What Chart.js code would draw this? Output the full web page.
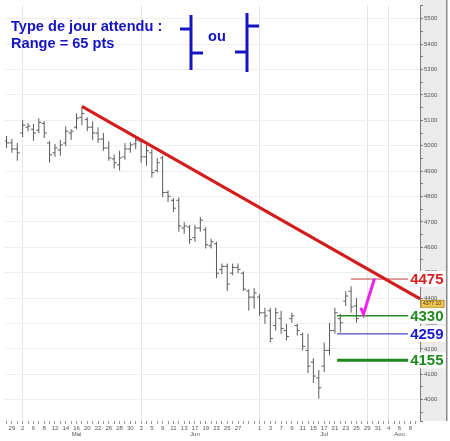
<!DOCTYPE html>
<html>
<head>
<meta charset="utf-8">
<script src="https://cdn.jsdelivr.net/npm/chart.js@4.4.1/dist/chart.umd.min.js"></script>
<style>
  html, body { margin: 0; padding: 0; background: #fff; }
</style>
</head>
<body>
<canvas id="chart" width="450" height="441"></canvas>
<script>
// Barres journalières (une par séance, index = position sur l'axe)
const highs = [5038, 5026, 5011, 5100, 5088, 5085, 5108, 5096, 5018, 5007,
               5022, 5077, 5065, 5127, 5151, 5112, 5096, 5073, 5050, 5018,
               4964, 4980, 5011, 5015, 5038, 5026, 5003, 4987, 4952, 4960,
               4824, 4793, 4797, 4700, 4688, 4688, 4719, 4680, 4634, 4622,
               4536, 4536, 4536, 4536, 4505, 4435, 4439, 4416, 4362, 4362,
               4362, 4350, 4299, 4342, 4299, 4264, 4260, 4163, 4117, 4225,
               4303, 4362, 4338, 4427, 4447, 4400];
const lows  = [4991, 4972, 4941, 5034, 5057, 5019, 5050, 5030, 4933, 4956,
               4960, 4999, 5022, 5065, 5081, 5057, 5022, 5011, 4980, 4941,
               4910, 4902, 4945, 4972, 4987, 4933, 4921, 4875, 4894, 4797,
               4778, 4739, 4661, 4653, 4614, 4622, 4661, 4595, 4595, 4478,
               4494, 4428, 4490, 4498, 4428, 4350, 4358, 4330, 4299, 4226,
               4272, 4260, 4233, 4303, 4253, 4194, 4105, 4066, 4004, 4109,
               4175, 4260, 4264, 4369, 4342, 4303];
const opens = [5019, 5011, 4987, 5050, 5073, 5065, 5061, 5088, 5011, 4972,
               4983, 5011, 5050, 5073, 5112, 5104, 5073, 5050, 5026, 4991,
               4948, 4925, 4956, 4987, 5007, 5018, 4956, 4972, 4902, 4952,
               4816, 4785, 4785, 4676, 4680, 4638, 4676, 4669, 4606, 4614,
               4513, 4525, 4498, 4521, 4498, 4428, 4404, 4404, 4342, 4350,
               4292, 4319, 4272, 4319, 4292, 4257, 4194, 4148, 4086, 4132,
               4194, 4272, 4319, 4388, 4427, 4369];
const closes = [5011, 4987, 4972, 5081, 5077, 5050, 5092, 5050, 4964, 4991,
                5003, 5057, 5057, 5108, 5127, 5073, 5050, 5026, 4991, 4952,
                4933, 4952, 4987, 5003, 5022, 4956, 4980, 4894, 4933, 4816,
                4801, 4754, 4684, 4684, 4630, 4676, 4707, 4610, 4622, 4498,
                4525, 4455, 4521, 4513, 4435, 4404, 4420, 4342, 4330, 4241,
                4342, 4280, 4249, 4330, 4272, 4210, 4132, 4093, 4047, 4194,
                4272, 4342, 4303, 4408, 4365, 4319];

// Axe des dates
const tickSlots  = [1, 3, 5, 7, 9, 11, 13, 15, 17, 19, 21, 23, 25, 27, 29, 31, 33, 35, 37,
                    39, 41, 43, 47, 49, 51, 53, 55, 57, 59, 61, 63, 65, 67, 69, 71, 73, 75];
const tickLabels = ['29', '2', '6', '8', '12', '14', '16', '20', '22', '26', '28', '30',
                    '3', '5', '9', '11', '13', '17', '19', '23', '25', '27',
                    '1', '3', '7', '9', '11', '15', '17', '21', '23', '25', '29', '31',
                    '4', '6', '8'];
const monthSlots  = [13, 35, 59, 73];
const monthLabels = ['Mai', 'Jun', 'Jul', 'Aou'];
const monthGrid   = [3, 25, 47, 67, 71];

// Tracés d'analyse
const trendX = [14, 76.8];
const trendY = [5155, 4397];
const arrowX = [65.8, 66.3, 68.35];
const arrowY = [4362, 4337, 4477];
const levelValues = [4475, 4330, 4259, 4155];
const levelStart  = [64, 61.4, 61.4, 61.4];
const levelEnd    = 74.6;
const lastPrice   = 4377.10;

const levelColors = ['#c23b3b', '#2a8a2a', '#1d1db5', '#1c8a1c'];
const labelColors = ['#d42020', '#218a21', '#1a1ad2', '#1c8a1c'];
const levelWidths = [1, 1.5, 1, 3];

const barColor = '#5a5a5a';

const pts = (xs, ys) => xs.map((x, i) => ({ x: x, y: ys[i] }));

const datasets = [
    {
        type: 'line',
        data: pts(trendX, trendY),
        borderColor: '#d41c1c',
        borderWidth: 3,
        pointRadius: 0
    },
    {
        type: 'line',
        data: pts(arrowX, arrowY),
        borderColor: '#ee22ee',
        borderWidth: 3,
        pointRadius: 0,
        borderJoinStyle: 'miter'
    }
];

levelValues.forEach((lv, i) => {
    datasets.push({
        type: 'line',
        data: [{ x: levelStart[i], y: lv }, { x: levelEnd, y: lv }],
        borderColor: levelColors[i],
        borderWidth: levelWidths[i],
        pointRadius: 0
    });
});

// petits traits ouverture (gauche) / clôture (droite)
datasets.push({
    type: 'line',
    data: opens.map((o, i) => ({ x: i - 0.25, y: o })),
    showLine: false,
    pointStyle: 'line',
    pointRadius: 1.2,
    pointBorderWidth: 1,
    pointBorderColor: barColor
});
datasets.push({
    type: 'line',
    data: closes.map((c, i) => ({ x: i + 0.25, y: c })),
    showLine: false,
    pointStyle: 'line',
    pointRadius: 1.2,
    pointBorderWidth: 1,
    pointBorderColor: barColor
});
datasets.push({
    type: 'bar',
    data: lows.map((l, i) => ({ x: i, y: [l, highs[i]] })),
    backgroundColor: barColor,
    barThickness: 1,
    inflateAmount: 0,
    borderWidth: 0
});

const decor = {
    id: 'decor',
    beforeDraw(chart) {
        const { ctx, chartArea } = chart;
        ctx.save();
        ctx.fillStyle = '#ebebeb';
        ctx.fillRect(chartArea.right, 0, 447 - chartArea.right, chartArea.bottom);
        ctx.fillStyle = '#8a8a8a';
        ctx.fillRect(446, 0, 1.5, chartArea.bottom);
        ctx.restore();
    },
    afterDraw(chart) {
        const { ctx, chartArea } = chart;
        const xs = chart.scales.x, ys = chart.scales.y;
        ctx.save();

        // prix courant
        const py = ys.getPixelForValue(lastPrice);
        ctx.fillStyle = '#f2c84b';
        ctx.strokeStyle = '#b8902a';
        ctx.lineWidth = 1;
        ctx.fillRect(chartArea.right + 1, py - 3.5, 23, 7);
        ctx.strokeRect(chartArea.right + 1, py - 3.5, 23, 7);
        ctx.fillStyle = '#333';
        ctx.font = '5px "Liberation Sans"';
        ctx.textBaseline = 'middle';
        ctx.fillText(lastPrice.toFixed(2), chartArea.right + 3, py);

        // étiquettes des niveaux
        ctx.font = 'bold 15px "Liberation Sans"';
        levelValues.forEach((lv, i) => {
            const y = ys.getPixelForValue(lv);
            const x = xs.getPixelForValue(levelEnd) + 2;
            const txt = String(lv);
            const w = ctx.measureText(txt).width;
            ctx.fillStyle = '#fff';
            ctx.fillRect(x - 1, y - 8, w + 3, 16);
            ctx.fillStyle = labelColors[i];
            ctx.fillText(txt, x, y + 1);
        });

        // légende "type de jour"
        const blue = '#1414c4';
        ctx.fillStyle = blue;
        ctx.font = 'bold 14.6px "Liberation Sans"';
        ctx.fillText('Type de jour attendu :', 11, 27);
        ctx.fillText('Range = 65 pts', 11, 44);
        ctx.fillText('ou', 208, 37);

        ctx.strokeStyle = blue;
        ctx.lineWidth = 3;
        ctx.lineCap = 'butt';
        const seg = (x1, y1, x2, y2) => {
            ctx.beginPath();
            ctx.moveTo(x1, y1);
            ctx.lineTo(x2, y2);
            ctx.stroke();
        };
        seg(191, 15, 191, 70);
        seg(180, 29, 191, 29);
        seg(191, 53, 203, 53);
        seg(247, 13, 247, 72);
        seg(247, 26, 259, 26);
        seg(235, 52, 247, 52);

        ctx.restore();
    }
};

new Chart(document.getElementById('chart'), {
    type: 'bar',
    data: { datasets: datasets },
    options: {
        responsive: false,
        animation: false,
        events: [],
        layout: { padding: 0 },
        plugins: {
            legend: { display: false },
            tooltip: { enabled: false }
        },
        scales: {
            x: {
                type: 'linear',
                min: -0.28,
                max: 76.8,
                offset: false,
                afterFit: (s) => { s.height = 20; },
                afterBuildTicks: (s) => {
                    const t = [];
                    for (let k = 0; k <= 76; k++) t.push({ value: k });
                    s.ticks = t;
                },
                border: { display: false },
                grid: {
                    offset: false,
                    color: (c) => monthGrid.includes(c.tick && c.tick.value) ? '#e4e4e4' : 'rgba(0,0,0,0)',
                    tickColor: '#9a9a9a',
                    tickLength: 3
                },
                ticks: {
                    autoSkip: false,
                    maxRotation: 0,
                    padding: 1,
                    color: '#555',
                    font: { family: 'Liberation Sans', size: 6, lineHeight: 1 },
                    callback: (v) => {
                        const i = tickSlots.indexOf(v);
                        const m = monthSlots.indexOf(v);
                        const day = i >= 0 ? tickLabels[i] : '';
                        return m >= 0 ? [day, monthLabels[m]] : day;
                    }
                }
            },
            y: {
                position: 'right',
                min: 3916,
                max: 5554,
                afterFit: (s) => { s.width = 30; },
                border: { display: true, color: '#7a7a7a' },
                grid: {
                    color: (c) => (c.tick && c.tick.value % 100 === 0) ? '#efefef' : 'rgba(0,0,0,0)',
                    tickColor: '#7a7a7a',
                    tickLength: 3
                },
                ticks: {
                    stepSize: 50,
                    padding: 1,
                    color: '#555',
                    font: { family: 'Liberation Sans', size: 6 },
                    callback: (v) => (v % 100 === 0 ? String(v) : '')
                }
            }
        }
    },
    plugins: [decor]
});
</script>
</body>
</html>
